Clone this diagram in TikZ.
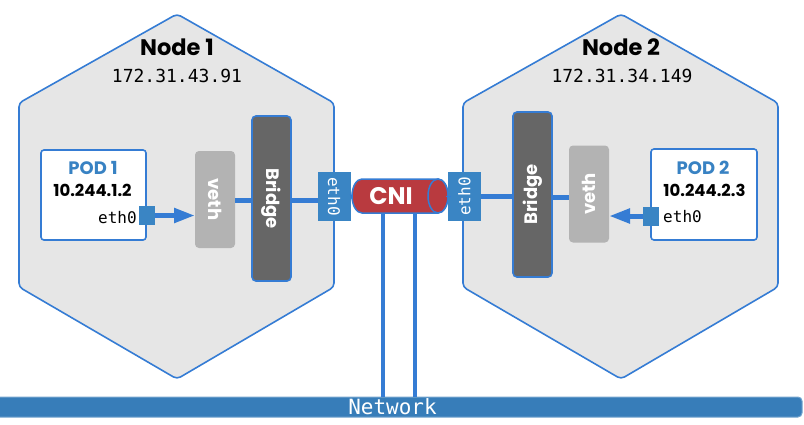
\documentclass[tikz,border=0pt]{standalone}
\usepackage{fontspec}
\setmainfont{Poppins}
\newfontfamily\monof{DejaVu Sans Mono}
\usetikzlibrary{arrows.meta}
\newcommand\fsz[1]{\fontsize{#1}{#1}\selectfont}
\definecolor{lblue}{RGB}{53,124,212}
\definecolor{hexfill}{RGB}{230,230,230}
\definecolor{ethblue}{RGB}{58,133,196}
\definecolor{netblue}{RGB}{55,125,185}
\definecolor{cnired}{RGB}{185,58,63}
\definecolor{bridgegray}{RGB}{102,102,102}
\definecolor{vethgray}{RGB}{179,179,179}
\definecolor{podblue}{RGB}{56,130,195}
\tikzset{
  x=1pt,y=1pt,
  hexa/.style={fill=hexfill,draw=lblue,line width=1.6pt,rounded corners=4pt},
  podbox/.style={fill=white,draw=lblue,line width=1.6pt,rounded corners=3pt,inner sep=0pt,outer sep=0pt},
  portbox/.style={fill=ethblue,inner sep=0pt,outer sep=0pt,minimum width=16pt,minimum height=19pt},
  vethbox/.style={fill=vethgray,rounded corners=4pt,inner sep=0pt,outer sep=0pt,minimum width=40pt,minimum height=97pt,text=white,font=\bfseries\fsz{18}},
  bridgebox/.style={fill=bridgegray,draw=lblue,line width=1.6pt,rounded corners=4pt,inner sep=0pt,outer sep=0pt,minimum width=39pt,minimum height=165pt,text=white,font=\bfseries\fsz{18}},
  ethbox/.style={fill=ethblue,inner sep=0pt,outer sep=0pt,minimum width=33pt,minimum height=49pt,text=white,font=\monof\fsz{16}},
  conn/.style={draw=lblue,line width=5pt},
  vconn/.style={draw=lblue,line width=4.5pt},
  arr/.style={conn,-{Triangle[length=21pt,width=14pt]}},
  title/.style={font=\bfseries\fsz{22.5},inner sep=0pt},
  ipt/.style={font=\monof\fsz{18},inner sep=0pt},
  podt/.style={font=\bfseries\fsz{18},text=podblue,inner sep=0pt},
  podip/.style={font=\bfseries\fsz{16.5},inner sep=0pt},
  etht/.style={font=\monof\fsz{16},inner sep=0pt},
}
\begin{document}
\begin{tikzpicture}
\useasboundingbox (0,0) rectangle (804,-424);
% hexagons
\draw[hexa] (177,-14) -- (334,-103) -- (334,-287) -- (177,-379) -- (19,-287) -- (19,-103) -- cycle;
\draw[hexa] (621,-14) -- (778,-103) -- (778,-287) -- (621,-379) -- (463,-287) -- (463,-103) -- cycle;
% titles
\node[title] (t1) at (177,-47) {Node 1};
\node[ipt] (ip1) at (177,-76) {172.31.43.91};
\node[title] (t2) at (621,-47) {Node 2};
\node[ipt] (ip2) at (622,-76) {172.31.34.149};
% network bar
\node[fill=netblue,draw=netblue!70!white,line width=1pt,rounded corners=4pt,minimum width=819pt,minimum height=20pt,inner sep=0pt,text=white,font=\monof\fsz{21}] (net) at (392.5,-407) {Network};
% pod 1
\node[podbox,minimum width=105pt,minimum height=90pt] (pod1) at (93.5,-195) {};
\node[podt] (pod1t) at (93,-168) {POD 1};
\node[podip] (pod1ip) at (92.5,-190) {10.244.1.2};
\node[etht] (pod1eth) at (117.5,-218) {eth0};
\node[portbox] (port1) at (147,-215.5) {};
% veth 1, bridge 1, eth 1
\node[vethbox] (veth1) at (215,-199.5) {\rotatebox{-90}{veth}};
\node[bridgebox] (bridge1) at (271.5,-198.5) {\rotatebox{-90}{Bridge}};
\node[ethbox] (eth1) at (334,-196.5) {\rotatebox{-90}{eth0}};
% CNI
\node[minimum width=96pt,minimum height=34pt,inner sep=0pt,outer sep=0pt] (cni) at (400,-196) {};
\draw[fill=cnired,draw=lblue,line width=1.5pt] (362,-179) -- (438,-179) arc[start angle=90,end angle=-90,x radius=10,y radius=17] -- (362,-213) arc[start angle=270,end angle=90,x radius=10,y radius=17] -- cycle;
\draw[fill=cnired,draw=lblue,line width=1.5pt] (438,-196) ellipse[x radius=10,y radius=17];
\node[text=white,font=\bfseries\fsz{24},inner sep=0pt] (cnit) at (391,-196) {CNI};
% eth 2, bridge 2, veth 2
\node[ethbox] (eth2) at (464.5,-196.5) {\rotatebox{90}{eth0}};
\node[bridgebox] (bridge2) at (532.5,-194.5) {\rotatebox{90}{Bridge}};
\node[vethbox] (veth2) at (589,-194) {\rotatebox{90}{veth}};
% pod 2
\node[podbox,minimum width=106pt,minimum height=91pt] (pod2) at (704,-194.5) {};
\node[podt] (pod2t) at (703,-168) {POD 2};
\node[podip] (pod2ip) at (704.5,-190) {10.244.2.3};
\node[etht] (pod2eth) at (682.5,-217) {eth0};
\node[portbox] (port2) at (650.5,-216) {};
% connectors
\draw[arr] (port1.east) -- (veth1.west |- port1.east);
\coordinate (c1) at (235,-200);
\draw[conn] (veth1.east |- c1) -- (bridge1.west |- c1);
\draw[conn] (bridge1.east |- c1) -- (eth1.west |- c1);
\draw[conn] (eth1.east) -- (cni.west);
\draw[conn] (cni.east) -- (eth2.west);
\draw[conn] (eth2.east) -- (bridge2.west |- eth2.east);
\coordinate (c2) at (560,-197);
\draw[conn] (bridge2.east |- c2) -- (veth2.west |- c2);
\draw[arr] (port2.west) -- (veth2.east |- port2.west);
\coordinate (cA) at (383,-213);
\coordinate (cB) at (415,-213);
\draw[vconn] (cA) -- (cA |- net.north);
\draw[vconn] (cB) -- (cB |- net.north);
\end{tikzpicture}
\end{document}
